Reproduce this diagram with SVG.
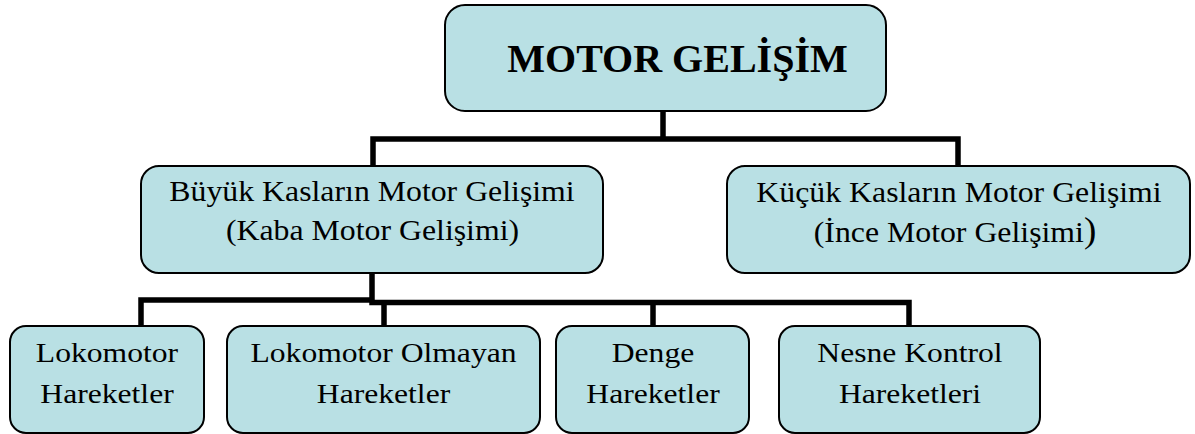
<svg xmlns="http://www.w3.org/2000/svg" width="1195" height="434" viewBox="0 0 1195 434">
<style>
.box{fill:#b9e0e4;stroke:#000;stroke-width:2}
.t{font-family:"Liberation Serif","Times New Roman",serif;fill:#000;text-anchor:middle}
.h{font-size:40px;font-weight:bold}
.m{font-size:30px}
.b{font-size:28px}
.c{fill:none;stroke:#000;stroke-width:5.5;stroke-linejoin:miter;stroke-linecap:square}
</style>
<g id="connectors">
<path class="c" d="M663 112V139M373 165V139H958V165"/>
<path class="c" d="M372 274V301M141 325V300H372M372 302.5H909V325M384 302.5V325M653 302.5V325"/>
</g>
<g id="n-top">
<rect class="box" x="445" y="5" width="441" height="106" rx="20"/>
<text class="t h" x="677.5" y="72">MOTOR GELİŞİM</text>
</g>
<g id="n-kaba">
<rect class="box" x="141" y="166" width="462" height="107" rx="18"/>
<text class="t m" transform="translate(372 201) scale(1.06 1)">Büyük Kasların Motor Gelişimi</text>
<text class="t m" transform="translate(372.5 240) scale(1.06 1)">(Kaba Motor Gelişimi)</text>
</g>
<g id="n-ince">
<rect class="box" x="727" y="166" width="463" height="107" rx="18"/>
<text class="t m" transform="translate(959 202) scale(1.06 1)">Küçük Kasların Motor Gelişimi</text>
<text class="t m" transform="translate(955 242) scale(1.06 1)">(İnce Motor Gelişimi<tspan font-size="35">)</tspan></text>
</g>
<g id="n-lok">
<rect class="box" x="10" y="326" width="194" height="107" rx="16"/>
<text class="t b" transform="translate(107 362) scale(1.13 1)">Lokomotor</text>
<text class="t b" transform="translate(107 403) scale(1.13 1)">Hareketler</text>
</g>
<g id="n-lokolm">
<rect class="box" x="227" y="326" width="313" height="107" rx="16"/>
<text class="t b" transform="translate(383.5 362) scale(1.13 1)">Lokomotor Olmayan</text>
<text class="t b" transform="translate(383.5 403) scale(1.13 1)">Hareketler</text>
</g>
<g id="n-denge">
<rect class="box" x="556" y="326" width="193" height="107" rx="16"/>
<text class="t b" transform="translate(653 362) scale(1.13 1)">Denge</text>
<text class="t b" transform="translate(653 403) scale(1.13 1)">Hareketler</text>
</g>
<g id="n-nesne">
<rect class="box" x="779" y="326" width="261" height="107" rx="16"/>
<text class="t b" transform="translate(910 362) scale(1.13 1)">Nesne Kontrol</text>
<text class="t b" transform="translate(910 403) scale(1.13 1)">Hareketleri</text>
</g>
</svg>
